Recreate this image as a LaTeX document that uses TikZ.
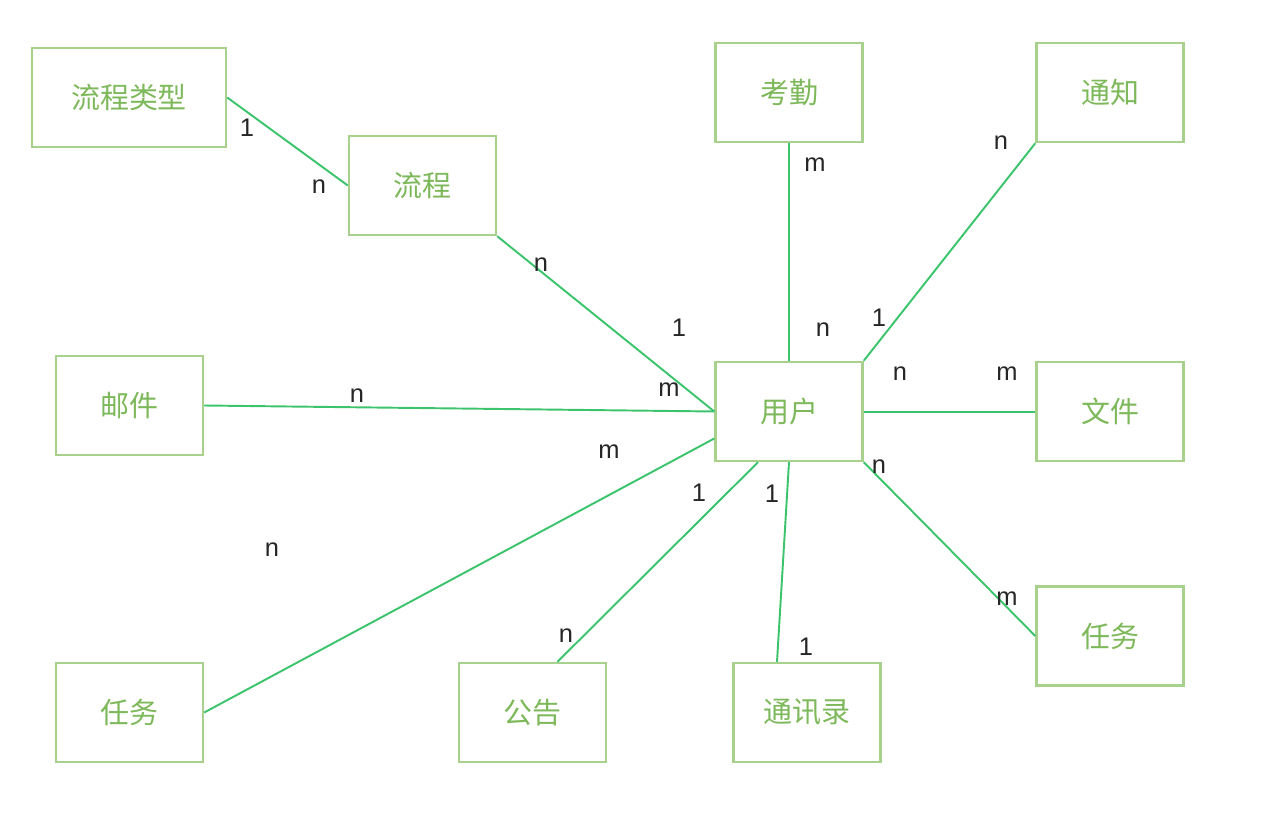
\documentclass[tikz,border=0pt]{standalone}
\usepackage{fontspec}
\setmainfont{Liberation Sans}
\newfontfamily\cjk{Noto Sans CJK SC}
\usepackage{tikz}
\usetikzlibrary{positioning}
\definecolor{boxline}{HTML}{A9D18E}
\definecolor{boxtext}{HTML}{7DB85A}
\definecolor{linkline}{HTML}{3CC46C}

\begin{document}
\begin{tikzpicture}[x=0.02cm, y=-0.02cm,
  entity/.style={draw=boxline, line width=1.4pt, minimum width=2.94cm, minimum height=1.98cm, inner sep=0pt, font=\cjk\fontsize{16.5}{18}\selectfont, text=boxtext},
  link/.style={draw=linkline, line width=1.1pt},
  card/.style={font=\fontsize{14.5}{16}\selectfont, text=black!85, inner sep=0pt}
]
  \useasboundingbox (0,0) rectangle (1271,827);

  \node[entity, minimum width=3.88cm] (ptype) at (129,97.5) {流程类型};
  \node[entity] (proc)    at (422.5,185.5) {流程};
  \node[entity] (attend)  at (789,92.5)    {考勤};
  \node[entity] (notice)  at (1110,92.5)   {通知};
  \node[entity] (mail)    at (129.5,405.5) {邮件};
  \node[entity] (user)    at (789,411.5)   {用户};
  \node[entity] (file)    at (1110,411.5)  {文件};
  \node[entity] (taskr)   at (1110,636)    {任务};
  \node[entity] (taskl)   at (129.5,712.5) {任务};
  \node[entity] (bulletin) at (532.5,712.5) {公告};
  \node[entity] (contacts) at (807,712.5)  {通讯录};

  \draw[link] (ptype.east) -- (proc.west);
  \draw[link] (proc.south east) -- (user.west);
  \draw[link] (mail.east) -- (user.west);
  \draw[link] (taskl.east) -- ([yshift=-0.54cm]user.west);
  \draw[link] ([xshift=0.5cm]bulletin.north) -- ([xshift=-0.62cm]user.south);
  \draw[link] ([xshift=-0.6cm]contacts.north) -- (user.south);
  \draw[link] (attend.south) -- (user.north);
  \draw[link] (notice.south west) -- (user.north east);
  \draw[link] ([yshift=-0.01cm]user.east) -- ([yshift=-0.01cm]file.west);
  \draw[link] (user.south east) -- (taskr.west);

  \node[card] (c1)  at (247,128)  {1};
  \node[card] (c2)  at (319,187)  {n};
  \node[card] (c3)  at (541,265)  {n};
  \node[card] (c4)  at (679,328)  {1};
  \node[card] (c5)  at (669,390)  {m};
  \node[card] (c6)  at (357,396)  {n};
  \node[card] (c7)  at (609,452)  {m};
  \node[card] (c8)  at (272,550)  {n};
  \node[card] (c9)  at (699,493)  {1};
  \node[card] (c10) at (566,636)  {n};
  \node[card] (c11) at (772,494)  {1};
  \node[card] (c12) at (806,647)  {1};
  \node[card] (c13) at (815,165)  {m};
  \node[card] (c14) at (823,330)  {n};
  \node[card] (c15) at (1001,143) {n};
  \node[card] (c16) at (879,318)  {1};
  \node[card] (c17) at (900,374)  {n};
  \node[card] (c18) at (1007,374) {m};
  \node[card] (c19) at (879,467)  {n};
  \node[card] (c20) at (1007,599) {m};
\end{tikzpicture}
\end{document}
